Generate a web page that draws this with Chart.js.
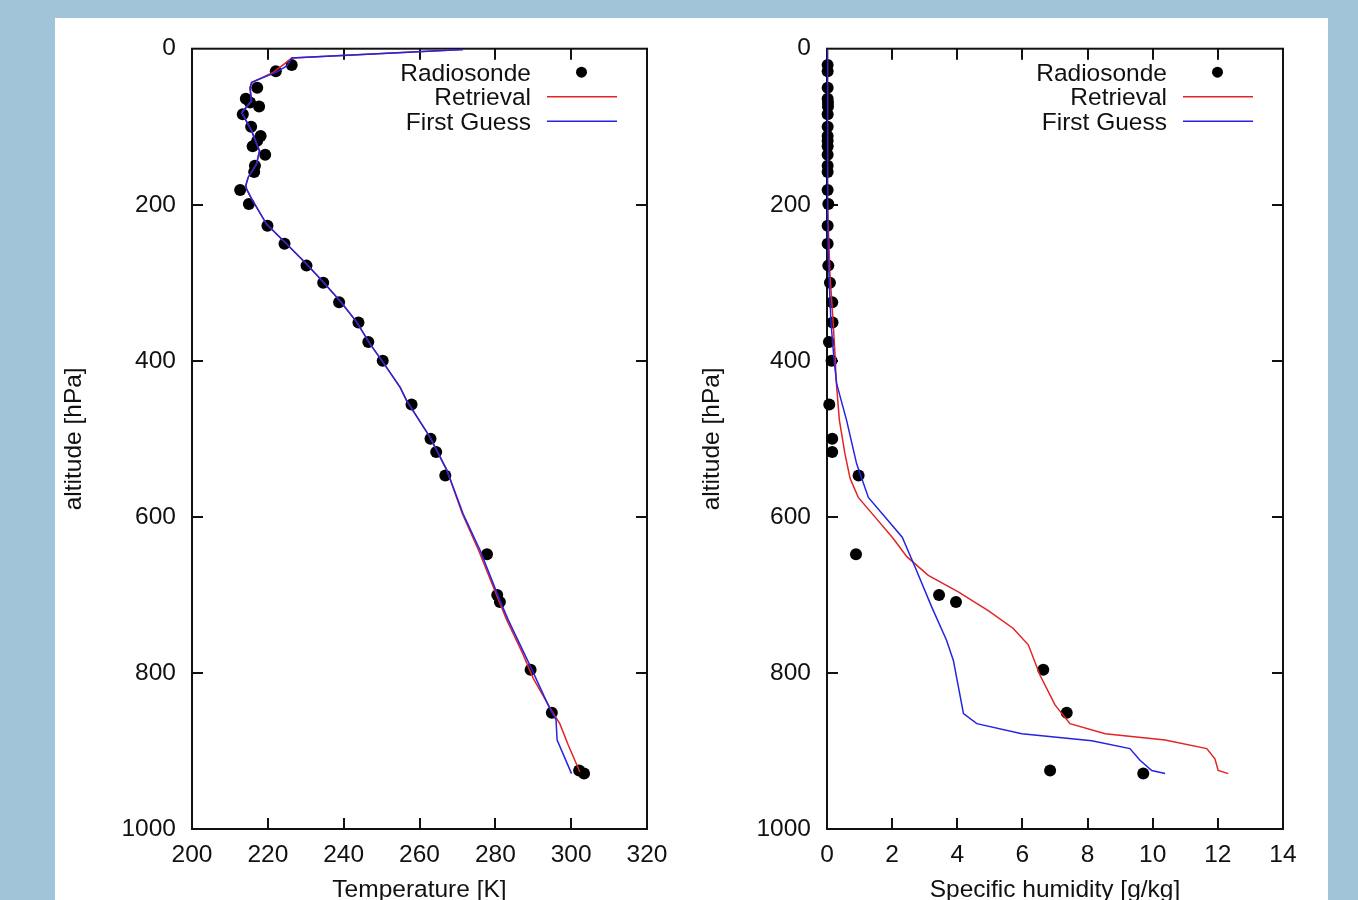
<!DOCTYPE html>
<html>
<head>
<meta charset="utf-8">
<title>Radiosonde / Retrieval / First Guess</title>
<script src="https://cdn.jsdelivr.net/npm/chart.js@4.4.1/dist/chart.umd.min.js"></script>
<style>
    html, body { margin: 0; padding: 0; overflow: hidden; }
    body { background: #a2c4d8; width: 1358px; height: 900px; position: relative; }
    .sheet { position: absolute; left: 55px; top: 18px; width: 1273px; height: 900px; background: #fff; overflow: hidden; }
    canvas { position: absolute; top: 0; }
    #chartTemp { left: 0; }
    #chartHum { left: 635px; }
</style>
</head>
<body>
<div class="sheet">
    <canvas id="chartTemp" width="636" height="900"></canvas>
    <canvas id="chartHum" width="638" height="900"></canvas>
</div>
<script>
// series names (legend order)
const seriesNames = ['Radiosonde', 'Retrieval', 'First Guess'];

// tick labels
const pressTicks = [0, 200, 400, 600, 800, 1000];
const tempTicks = [200, 220, 240, 260, 280, 300, 320];
const humTicks = [0, 2, 4, 6, 8, 10, 12, 14];

// radiosonde levels [hPa] and values
const sondePress = [21, 29, 50, 64, 69, 74, 84, 100, 112, 118, 125, 136, 150, 158, 181, 199, 227, 250, 278, 300, 325, 351, 376, 400, 456, 500, 517, 547, 648, 700, 709, 796, 851, 925, 929];
const sondeTemp = [226.3, 222.1, 217.2, 214.2, 215.3, 217.7, 213.4, 215.6, 218.1, 217.2, 216.0, 219.3, 216.6, 216.4, 212.7, 215.0, 219.9, 224.4, 230.2, 234.6, 238.8, 243.9, 246.5, 250.3, 257.9, 262.9, 264.4, 266.8, 277.8, 280.5, 281.2, 289.3, 294.9, 302.1, 303.4];
const sondeHum = [0.02, 0.02, 0.02, 0.02, 0.03, 0.03, 0.02, 0.02, 0.02, 0.02, 0.02, 0.02, 0.02, 0.02, 0.02, 0.04, 0.02, 0.02, 0.04, 0.09, 0.16, 0.17, 0.06, 0.14, 0.07, 0.16, 0.16, 0.97, 0.89, 3.44, 3.96, 6.64, 7.36, 6.85, 9.71];

// temperature profiles
const retrPressT = [1, 12, 20, 30, 43, 50, 67, 82, 105, 131, 148, 165, 175, 180, 192, 225, 248, 276, 299, 323, 350, 378, 402, 434, 451, 498, 540, 596, 643, 707, 732, 775, 807, 852, 865, 892, 927];
const retrTemp = [271.5, 226.3, 224.2, 221.5, 215.9, 215.3, 215.7, 213.1, 215.7, 217.8, 217.0, 214.8, 214.2, 214.4, 215.7, 219.7, 224.5, 230.2, 234.6, 239.0, 243.4, 246.9, 250.4, 254.9, 256.6, 262.8, 267.2, 271.3, 275.6, 280.9, 283.0, 287.2, 290.0, 295.3, 297.0, 299.2, 302.3];
const guessPressT = [1, 12, 22, 30, 43, 50, 67, 82, 105, 131, 148, 165, 175, 180, 192, 225, 248, 276, 299, 323, 350, 378, 402, 434, 451, 498, 540, 596, 643, 707, 732, 790, 846, 860, 886, 929];
const guessTemp = [271.5, 226.3, 225.0, 222.3, 215.7, 215.3, 215.7, 213.1, 215.7, 217.8, 217.0, 214.8, 214.2, 214.4, 215.7, 219.7, 224.5, 230.2, 234.6, 239.0, 243.4, 246.9, 250.4, 254.9, 256.6, 262.8, 267.2, 271.5, 276.0, 281.2, 283.4, 289.1, 294.4, 296.0, 296.3, 300.1];

// humidity profiles
const retrPressQ = [1, 100, 200, 288, 352, 395, 425, 476, 519, 551, 575, 600, 628, 651, 675, 696, 720, 743, 764, 803, 841, 865, 878, 886, 897, 910, 925, 929];
const retrHum = [0.0, 0.01, 0.02, 0.09, 0.19, 0.25, 0.28, 0.38, 0.55, 0.71, 0.96, 1.47, 2.04, 2.45, 3.11, 4.03, 4.95, 5.72, 6.18, 6.54, 7.00, 7.46, 8.54, 10.38, 11.66, 11.91, 12.01, 12.32];
const guessPressQ = [1, 100, 200, 270, 350, 400, 430, 476, 532, 575, 626, 664, 715, 758, 784, 852, 865, 878, 887, 897, 912, 925, 929];
const guessHum = [0.0, 0.01, 0.02, 0.04, 0.12, 0.22, 0.30, 0.60, 0.91, 1.27, 2.31, 2.70, 3.21, 3.67, 3.88, 4.19, 4.60, 5.98, 8.13, 9.30, 9.61, 9.97, 10.38];

const RED = '#e22424';
const BLUE = '#2424e2';
const FONT = { family: '"Liberation Sans", Arial, Helvetica, sans-serif', size: 24.5 };
const TICK_LEN = 11;

function pairs(xs, ps) {
    return xs.map((v, i) => ({ x: v, y: ps[i] }));
}

// gnuplot style frame with inward ticks on all four sides
const frameTicks = {
    id: 'frameTicks',
    beforeDatasetsDraw(chart) {
        const { ctx, chartArea: a, scales } = chart;
        ctx.save();
        ctx.strokeStyle = '#111';
        ctx.lineWidth = 2;
        ctx.strokeRect(a.left, a.top, a.right - a.left, a.bottom - a.top);
        ctx.beginPath();
        scales.x.ticks.forEach(t => {
            const px = Math.round(scales.x.getPixelForValue(t.value));
            if (px <= a.left + 2 || px >= a.right - 2) return;
            ctx.moveTo(px, a.bottom); ctx.lineTo(px, a.bottom - TICK_LEN);
            ctx.moveTo(px, a.top); ctx.lineTo(px, a.top + TICK_LEN);
        });
        scales.y.ticks.forEach(t => {
            const py = Math.round(scales.y.getPixelForValue(t.value));
            if (py <= a.top + 2 || py >= a.bottom - 2) return;
            ctx.moveTo(a.left, py); ctx.lineTo(a.left + TICK_LEN, py);
            ctx.moveTo(a.right, py); ctx.lineTo(a.right - TICK_LEN, py);
        });
        ctx.stroke();
        ctx.restore();
    }
};

// key in the top right corner: text right aligned, sample on the right
const gnuKey = {
    id: 'gnuKey',
    afterDraw(chart) {
        const { ctx, chartArea: a } = chart;
        const ds = chart.data.datasets;
        const rows = [ds[2], ds[1], ds[0]];
        ctx.save();
        ctx.font = FONT.size + 'px ' + FONT.family;
        ctx.textAlign = 'right';
        ctx.textBaseline = 'alphabetic';
        rows.forEach((d, i) => {
            const y = a.top + 23.5 + i * 24.5;
            ctx.fillStyle = '#111';
            ctx.fillText(d.label, a.right - 116, y + 8.5);
            if (d.showLine) {
                ctx.strokeStyle = d.borderColor;
                ctx.lineWidth = 1.5;
                ctx.beginPath();
                ctx.moveTo(a.right - 100, y);
                ctx.lineTo(a.right - 30, y);
                ctx.stroke();
            } else {
                ctx.fillStyle = '#000';
                ctx.beginPath();
                ctx.arc(a.right - 65.5, y, 5.5, 0, Math.PI * 2);
                ctx.fill();
            }
        });
        ctx.restore();
    }
};

function makePanel(canvasId, cfg) {
    const ctx = document.getElementById(canvasId);
    return new Chart(ctx, {
        type: 'scatter',
        data: {
            datasets: [
                {
                    label: seriesNames[2],
                    data: pairs(cfg.guessX, cfg.guessP),
                    showLine: true,
                    borderColor: BLUE,
                    borderWidth: 1.5,
                    pointRadius: 0,
                    tension: 0
                },
                {
                    label: seriesNames[1],
                    data: pairs(cfg.retrX, cfg.retrP),
                    showLine: true,
                    borderColor: RED,
                    borderWidth: 1.5,
                    pointRadius: 0,
                    tension: 0
                },
                {
                    label: seriesNames[0],
                    data: pairs(cfg.sondeX, sondePress),
                    showLine: false,
                    pointRadius: 6,
                    pointBackgroundColor: '#000',
                    pointBorderWidth: 0,
                    clip: false
                }
            ]
        },
        options: {
            responsive: false,
            animation: false,
            events: [],
            layout: { padding: { top: 30, right: cfg.rightPad, left: 0, bottom: 0 } },
            plugins: {
                legend: { display: false },
                tooltip: { enabled: false }
            },
            scales: {
                x: {
                    type: 'linear',
                    min: cfg.xTicks[0],
                    max: cfg.xTicks[cfg.xTicks.length - 1],
                    afterBuildTicks: (s) => { s.ticks = cfg.xTicks.map(v => ({ value: v })); },
                    afterFit: (s) => { s.height = 89; },
                    grid: { display: false, drawTicks: false },
                    border: { display: false },
                    ticks: { font: FONT, color: '#111', padding: 12, maxRotation: 0, autoSkip: false, callback: v => String(v) },
                    title: { display: true, text: cfg.xTitle, font: FONT, color: '#111', padding: { top: 0, bottom: 13 } }
                },
                y: {
                    type: 'linear',
                    reverse: true,
                    min: 0,
                    max: 1000,
                    afterBuildTicks: (s) => { s.ticks = pressTicks.map(v => ({ value: v })); },
                    afterFit: (s) => { s.width = 137; },
                    grid: { display: false, drawTicks: false },
                    border: { display: false },
                    ticks: { font: FONT, color: '#111', padding: 16, autoSkip: false, callback: v => String(v) },
                    title: { display: true, text: 'altitude [hPa]', font: FONT, color: '#111', padding: { top: cfg.yTitlePad, bottom: 0 } }
                }
            }
        },
        plugins: [frameTicks, gnuKey]
    });
}

document.addEventListener('DOMContentLoaded', function () {
    Chart.defaults.font.family = FONT.family;

    makePanel('chartTemp', {
        sondeX: sondeTemp,
        retrX: retrTemp, retrP: retrPressT,
        guessX: guessTemp, guessP: guessPressT,
        xTicks: tempTicks,
        xTitle: 'Temperature [K]',
        rightPad: 44,
        yTitlePad: 5
    });

    makePanel('chartHum', {
        sondeX: sondeHum,
        retrX: retrHum, retrP: retrPressQ,
        guessX: guessHum, guessP: guessPressQ,
        xTicks: humTicks,
        xTitle: 'Specific humidity [g/kg]',
        rightPad: 45,
        yTitlePad: 8
    });
});
</script>
</body>
</html>
